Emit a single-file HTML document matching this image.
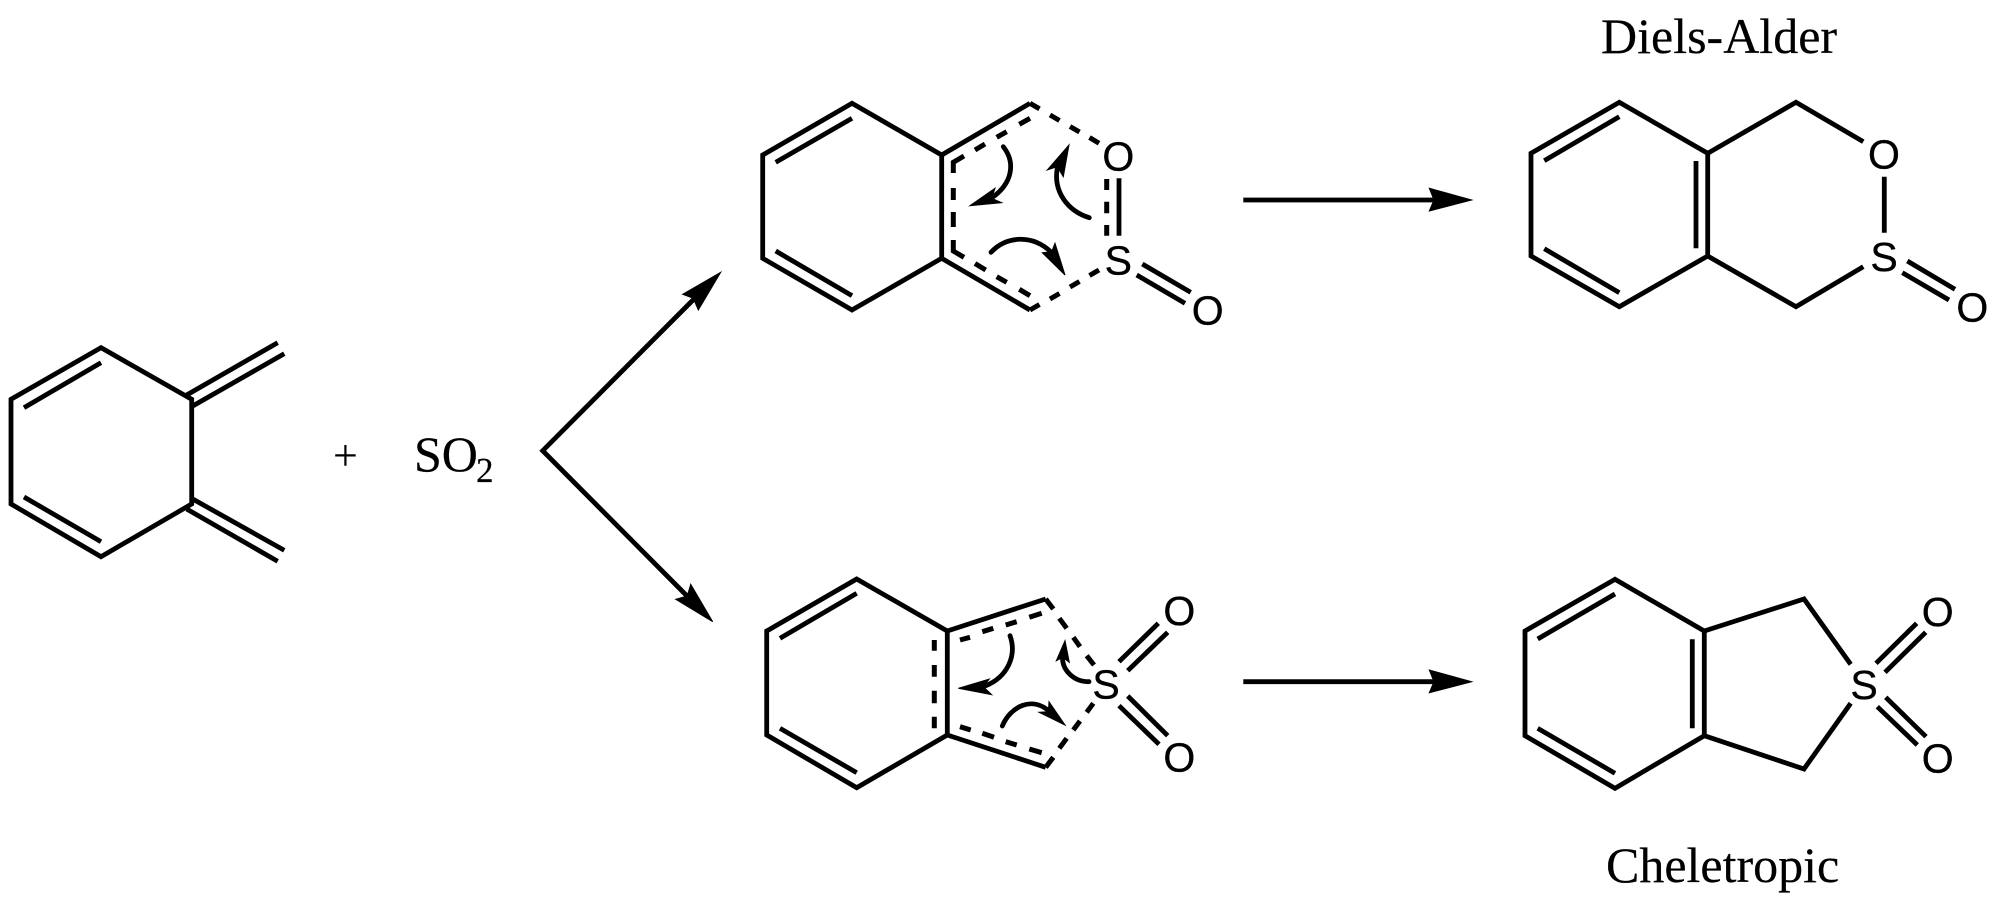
<!DOCTYPE html>
<html>
<head>
<meta charset="utf-8">
<style>
html,body{margin:0;padding:0;background:#fff;width:1998px;height:904px;overflow:hidden}
svg{display:block}
.b{fill:none;stroke:#000;stroke-width:4.8;stroke-linecap:butt;stroke-linejoin:miter}
.d{fill:none;stroke:#000;stroke-width:5;stroke-linecap:butt;stroke-linejoin:miter}
.c{fill:none;stroke:#000;stroke-width:4.8;stroke-linecap:round}
.h{fill:#000;stroke:#000;stroke-width:1;stroke-linejoin:miter}
.l{font-family:"Liberation Sans",sans-serif;font-size:41px;text-anchor:middle;fill:#000;stroke:#000;stroke-width:.35}
.t{font-family:"Liberation Serif",serif;font-size:50px;fill:#000;stroke:#000;stroke-width:.2}
</style>
</head>
<body>
<svg width="1998" height="904" viewBox="0 0 1998 904" xmlns="http://www.w3.org/2000/svg">
<rect width="1998" height="904" fill="#fff"/>

<!-- Left diene -->
<path class="b" d="M101 347.7L11 399.3V504L101 556.7L191.7 504V399.3Z"/>
<path class="b" d="M24 407.7L101 362.7M24 497L101 541.7"/>
<path class="b" d="M186.7 395L277.7 342.7M192.7 406L284.3 353.7M192.7 499L284.3 550.3M186.7 509L277.7 561.3"/>
<text class="t" x="333" y="470" style="font-size:44px;stroke-width:0">+</text>
<text class="t" x="414" y="471">SO</text>
<text class="t" x="476" y="482" style="font-size:35px">2</text>

<!-- Branch arrows -->
<path class="b" d="M696 297L542.7 450.7L692 601"/>
<polygon class="h" points="720.7,272.3 682.7,294.3 693.3,298.3 698.3,310"/>
<polygon class="h" points="712.7,621.7 690.7,584.3 687.3,596 675.7,599.3"/>

<!-- Top TS -->
<path class="b" d="M852 103.3L762.7 155V258.3L852 310L941.7 258.3V155Z"/>
<path class="b" d="M775.7 162.3L852 118.3M775.7 251L852 295.7"/>
<path class="b" d="M941.7 155L1030 103.3M941.7 258.3L1030 310"/>
<path class="d" d="M1030 103.3L1039.5 108.8M1050 115L1059.5 120.5M1070 126.5L1079.5 132M1089.5 137.5L1099 143.3"/>
<path class="d" d="M1030 310L1039.5 304.5M1050 299L1059.5 293.5M1070 287L1079.5 281.5M1089.5 275.5L1099 270"/>
<path class="d" d="M1030 118.3L1019.3 124.3M1006.7 131.7L996.7 137.3M985 144L975 150M964 156L953.3 162.3V173M953.3 188V200M953.3 212V227M953.3 240V251L964 257.3M975 263.5L985.7 270M996.7 276.7L1006.7 282.3M1019.3 289.3L1030 295.7"/>
<path class="d" d="M1106.7 179V190M1106.7 201.7V213.3M1106.7 225V235.7"/>
<path class="b" d="M1119 178.3V235.7"/>
<path class="b" d="M1142.3 264L1190.7 292.3M1136.7 275L1185 303.3"/>
<text class="l" x="1118.3" y="170.5">O</text>
<text class="l" x="1118.3" y="274.5">S</text>
<text class="l" x="1207.7" y="324.5">O</text>

<path class="c" d="M1003.3 146.7C1016 163 1012 183 993 197"/>
<polygon class="h" points="970,205.7 995,188.3 991.7,198.3 1001.7,202.7"/>
<path class="c" d="M1089.3 217.7C1068 211 1053 192 1057.3 168"/>
<polygon class="h" points="1069,145 1047.3,170 1057.3,166.7 1063.3,176.7"/>
<path class="c" d="M991 252.3C1006 236 1032 234 1051 252"/>
<polygon class="h" points="1065,275 1042.3,252.7 1051.7,251.7 1055,243.3"/>

<!-- Bottom TS -->
<path class="b" d="M856.7 579L766.7 631V735L856.7 787.7L947.3 735V631Z"/>
<path class="b" d="M780 638.3L856.7 593.3M780 728.3L856.7 772.7"/>
<path class="b" d="M947.3 631L1045.7 599M947.3 735L1045.7 767.3"/>
<path class="d" d="M1045.7 599L1053.3 609M1059.3 618.3L1066.7 628.3M1073.3 637.3L1080 646.7M1086.7 655.7L1094 665"/>
<path class="d" d="M1045.7 767.3L1053.3 757.3M1059.3 748.3L1066.7 738.3M1073.3 730L1080 721M1086.7 712.3L1093.3 703.3"/>
<path class="d" d="M934.3 640V650.7M934.3 665V676.7M934.3 690.7V703.3M934.3 716.7V728.3"/>
<path class="d" d="M960 640L970 637.3M982.3 631.7L993.3 628.3M1005.7 625L1016.7 621.7M1029.3 617.3L1041.7 613.3"/>
<path class="d" d="M960 726.7L970.7 730M982.3 733.3L994 737.3M1005.7 741.7L1016.7 745M1029.3 749L1041.7 752.7"/>
<path class="b" d="M1119 661.7L1158.3 623.3M1127.7 670.7L1167.7 632.3M1127.7 696L1167.7 735.7M1119 705.7L1159 744.3"/>
<text class="l" x="1106" y="698.5">S</text>
<text class="l" x="1179.3" y="625">O</text>
<text class="l" x="1179.3" y="771.5">O</text>

<path class="c" d="M1010 635.7C1017 655 1008 677 985 686"/>
<polygon class="h" points="958.3,688.3 989.3,679 983.3,686.7 991.7,694.7"/>
<path class="c" d="M1089 681.7C1074 682 1061 670 1062.7 655"/>
<polygon class="h" points="1065,640.7 1056.3,660.7 1062.7,657.3 1069.3,662.3"/>
<path class="c" d="M1002.3 726C1010 707 1032 695 1050 712"/>
<polygon class="h" points="1065,725 1039,712.3 1048.3,711.7 1049,701.7"/>

<!-- Horizontal arrows -->
<path class="b" d="M1243.3 200H1436M1243.3 681.7H1436"/>
<polygon class="h" points="1471.7,200 1429.3,188.3 1434,200 1429.3,211"/>
<polygon class="h" points="1471.7,681.7 1429.3,670 1434,681.7 1429.3,692.7"/>

<!-- Top product -->
<text class="t" x="1601" y="53">Diels-Alder</text>
<path class="b" d="M1619.3 102.3L1531 153.3V256L1619.3 306.7L1707.7 256V153.3Z"/>
<path class="b" d="M1544.3 160.7L1619.3 116.7M1544.3 248.7L1619.3 292.7M1696 161V248.3"/>
<path class="b" d="M1707.7 153.3L1796 102.3L1863.3 141.7M1707.7 256L1796 306.7L1863.3 266.7"/>
<path class="b" d="M1884.3 176.7V232.7"/>
<path class="b" d="M1907.3 261L1955 289.3M1902.3 272.7L1949 300"/>
<text class="l" x="1884" y="168.5">O</text>
<text class="l" x="1884" y="271">S</text>
<text class="l" x="1972.3" y="321.5">O</text>

<!-- Bottom product -->
<path class="b" d="M1615 579.3L1525 631V735.7L1615 788.3L1704.3 735.7V631Z"/>
<path class="b" d="M1537.7 639L1615 594M1537.7 728.3L1615 773.3M1692.3 639.3V728.3"/>
<path class="b" d="M1704.3 631L1804 599L1850.7 664.3M1704.3 735.7L1804 769L1850.7 703.3"/>
<path class="b" d="M1876 663.3L1916.7 623.3M1885 672.3L1925.7 632.3M1885.7 697.3L1926 736.7M1877.3 706.7L1917.3 745"/>
<text class="l" x="1864" y="699">S</text>
<text class="l" x="1937.7" y="626">O</text>
<text class="l" x="1937.7" y="772.5">O</text>
<text class="t" x="1606" y="882">Cheletropic</text>
</svg>
</body>
</html>
